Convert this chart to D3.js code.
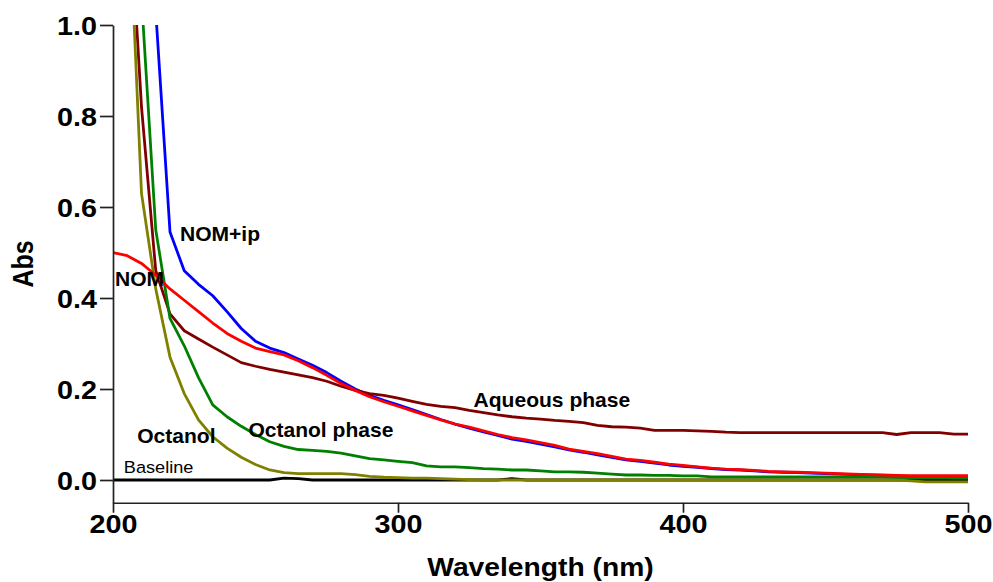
<!DOCTYPE html>
<html>
<head>
<meta charset="utf-8">
<script src="https://cdn.jsdelivr.net/npm/d3@7"></script>
<style>
  html, body { margin: 0; padding: 0; background: #fff; }
  svg { display: block; }
  text { font-family: "Liberation Sans", Arial, sans-serif; }
</style>
</head>
<body>
<svg id="chart" width="993" height="582"></svg>
<script>
// ---- data ----
const wavelength = d3.range(200, 501, 5);

const nomIp = [3.0, 2.5, 1.7, 1.03, 0.545, 0.46, 0.43, 0.405, 0.37, 0.333,
  0.305, 0.29, 0.28, 0.266, 0.252, 0.236, 0.217, 0.2, 0.186, 0.175,
  0.165, 0.155, 0.144, 0.133, 0.123, 0.114, 0.106, 0.098, 0.09, 0.085,
  0.079, 0.073, 0.066, 0.061, 0.055, 0.05, 0.044, 0.041, 0.037, 0.033,
  0.03, 0.028, 0.025, 0.023, 0.022, 0.02, 0.018, 0.017, 0.016, 0.015,
  0.014, 0.013, 0.012, 0.011, 0.01, 0.008, 0.007, 0.006, 0.006, 0.006, 0.006];

const nom = [0.5, 0.493, 0.476, 0.45, 0.42, 0.395, 0.37, 0.345, 0.322, 0.305,
  0.29, 0.282, 0.275, 0.262, 0.247, 0.23, 0.212, 0.197, 0.183, 0.172,
  0.162, 0.152, 0.142, 0.132, 0.123, 0.116, 0.108, 0.1, 0.093, 0.088,
  0.082, 0.076, 0.068, 0.063, 0.058, 0.052, 0.046, 0.043, 0.039, 0.035,
  0.032, 0.029, 0.026, 0.024, 0.023, 0.021, 0.019, 0.018, 0.017, 0.016,
  0.015, 0.014, 0.013, 0.012, 0.011, 0.01, 0.0095, 0.0095, 0.0095, 0.0095, 0.0095];

const aqueousPhase = [2.0, 1.35, 0.82, 0.46, 0.365, 0.328, 0.31, 0.292, 0.275, 0.258,
  0.25, 0.243, 0.237, 0.231, 0.225, 0.217, 0.206, 0.197, 0.19, 0.186,
  0.18, 0.173, 0.166, 0.162, 0.159, 0.153, 0.148, 0.143, 0.139, 0.136,
  0.134, 0.131, 0.129, 0.126, 0.12, 0.117, 0.116, 0.114, 0.109, 0.109,
  0.109, 0.108, 0.107, 0.105, 0.104, 0.104, 0.104, 0.104, 0.104, 0.104,
  0.104, 0.104, 0.104, 0.104, 0.104, 0.100, 0.104, 0.104, 0.104, 0.101, 0.101];

const octanolPhase = [2.5, 1.8, 1.06, 0.55, 0.355, 0.295, 0.225, 0.165, 0.139, 0.118,
  0.1, 0.084, 0.074, 0.067, 0.065, 0.063, 0.059, 0.053, 0.047, 0.044,
  0.041, 0.038, 0.031, 0.029, 0.029, 0.027, 0.025, 0.024, 0.022, 0.022,
  0.02, 0.018, 0.018, 0.017, 0.015, 0.013, 0.011, 0.011, 0.01, 0.01,
  0.009, 0.009, 0.007, 0.007, 0.007, 0.007, 0.007, 0.007, 0.007, 0.007,
  0.007, 0.007, 0.007, 0.007, 0.007, 0.006, 0.005, 0.005, 0.005, 0.004, 0.004];

const octanol = [2.2, 1.35, 0.63, 0.42, 0.27, 0.19, 0.132, 0.095, 0.07, 0.05,
  0.034, 0.022, 0.016, 0.014, 0.014, 0.014, 0.014, 0.012, 0.008, 0.006,
  0.005, 0.004, 0.004, 0.003, 0.002, 0.001, 0, 0, 0, 0,
  0, 0, 0, 0, 0, 0, 0, 0, 0, 0,
  0, 0, 0, 0, 0, 0, 0, 0, 0, 0,
  0, 0, 0, 0, 0, 0, -0.002, -0.004, -0.004, -0.004, -0.004];

const baseline = [0, 0, 0, 0, 0, 0, 0, 0, 0, 0,
  0, 0, 0.004, 0.003, 0, 0, 0, 0, 0, 0,
  0, 0, 0, 0, 0, 0, 0, 0, 0.003, 0,
  0, 0, 0, 0, 0, 0, 0, 0, 0, 0,
  0, 0, 0, 0, 0, 0, 0, 0, 0, 0,
  0, 0, 0, 0, 0, 0, 0, 0, 0, 0, 0];

const xTicks = [200, 300, 400, 500];
const yTicks = [0.0, 0.2, 0.4, 0.6, 0.8, 1.0];

const series = [
  { name: "Baseline", values: baseline, color: "#000000" },
  { name: "NOM+ip", values: nomIp, color: "#0000ff" },
  { name: "Aqueous phase", values: aqueousPhase, color: "#800000" },
  { name: "Octanol", values: octanol, color: "#808000" },
  { name: "Octanol phase", values: octanolPhase, color: "#008000" },
  { name: "NOM", values: nom, color: "#ff0000" }
];

const labels = [
  { text: "NOM+ip", wl: 223.5, abs: 0.525, bold: true },
  { text: "NOM", wl: 200.7, abs: 0.426, bold: true },
  { text: "Aqueous phase", wl: 326.5, abs: 0.160, bold: true },
  { text: "Octanol phase", wl: 247.5, abs: 0.094, bold: true },
  { text: "Octanol", wl: 208.5, abs: 0.081, bold: true },
  { text: "Baseline", wl: 203.8, abs: 0.015, bold: false }
];

// ---- layout ----
const svg = d3.select("#chart");
const mLeft = 113, mRight = 968, mTop = 25, mBottom = 502.75;
const stretch = 1.15;

const x = d3.scaleLinear().domain([200, 500]).range([mLeft, mRight]);
const y = d3.scaleLinear().domain([-0.05, 1.0]).range([mBottom, mTop]);

svg.append("defs").append("clipPath").attr("id", "plotclip")
  .append("rect").attr("x", mLeft).attr("y", mTop).attr("width", mRight - mLeft + 2).attr("height", mBottom - mTop);

const line = d3.line().x((d, i) => x(wavelength[i])).y(d => y(d));

const g = svg.append("g").attr("clip-path", "url(#plotclip)");
series.forEach(s => {
  g.append("path")
    .datum(s.values)
    .attr("d", line)
    .attr("fill", "none")
    .attr("stroke", s.color)
    .attr("stroke-width", 2.8)
    .attr("stroke-linejoin", "round");
});

// axes
const xAxis = svg.append("g").attr("transform", `translate(0,${mBottom})`)
  .call(d3.axisBottom(x).tickValues(xTicks).tickSize(10).tickSizeOuter(0).tickFormat(d3.format("d")));
const yAxis = svg.append("g").attr("transform", `translate(${mLeft},0)`)
  .call(d3.axisLeft(y).tickValues(yTicks).tickSize(13).tickSizeOuter(0).tickFormat(d3.format(".1f")));

[xAxis, yAxis].forEach(ax => {
  ax.select(".domain").attr("stroke", "#222").attr("stroke-width", 1.7);
  ax.selectAll(".tick line").attr("stroke", "#222").attr("stroke-width", 1.7);
  ax.selectAll(".tick text")
    .attr("fill", "#000")
    .style("font-family", "'Liberation Sans', Arial, sans-serif")
    .style("font-weight", "bold")
    .style("font-size", "25px")
    .attr("transform", `scale(${stretch},1)`);
});
xAxis.selectAll(".tick text").attr("dy", null).attr("y", 30);
yAxis.selectAll(".tick text").attr("x", -16 / stretch).attr("dy", "0.36em");

// axis titles
svg.append("g").attr("transform", `translate(${(mLeft + mRight) / 2},576) scale(1.13,1)`)
  .append("text")
  .attr("text-anchor", "middle")
  .style("font-weight", "bold").style("font-size", "25px")
  .text("Wavelength (nm)");

svg.append("g").attr("transform", "translate(33,264) rotate(-90) scale(1,1.2)")
  .append("text")
  .attr("text-anchor", "middle")
  .style("font-weight", "bold").style("font-size", "25px")
  .text("Abs");

// curve labels
labels.forEach(l => {
  svg.append("g").attr("transform", `translate(${x(l.wl)},${y(l.abs)}) scale(${l.bold ? 1.08 : 1.1},1)`)
    .append("text")
    .style("font-weight", l.bold ? "bold" : "normal")
    .style("font-size", l.bold ? "19.5px" : "16.5px")
    .attr("fill", "#000")
    .text(l.text);
});
</script>
</body>
</html>
